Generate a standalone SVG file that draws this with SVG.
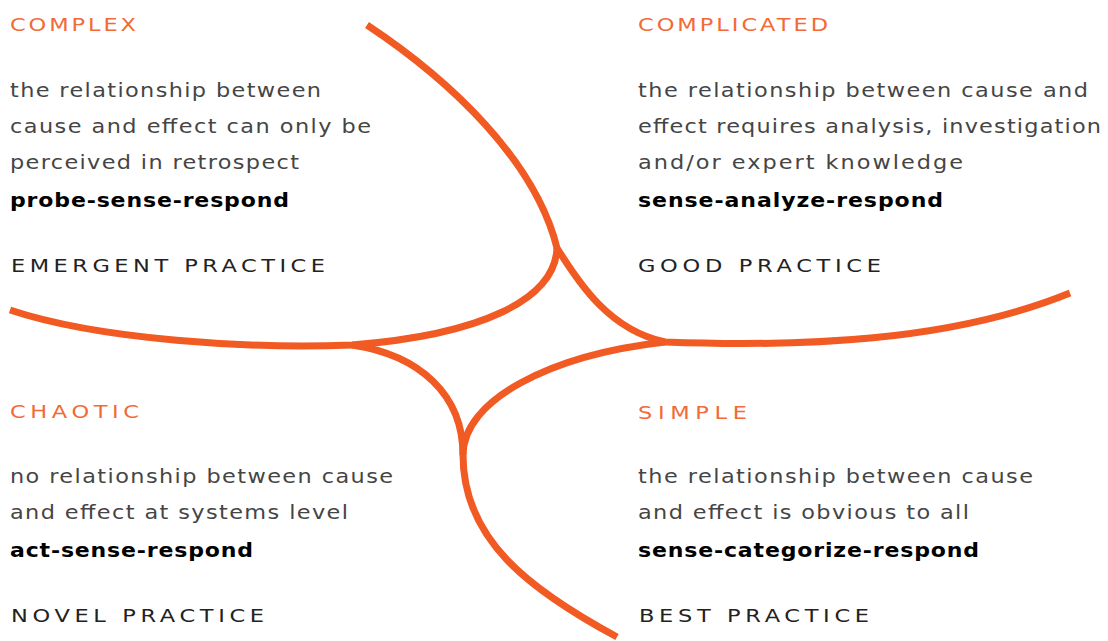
<svg xmlns="http://www.w3.org/2000/svg" width="1108" height="641" viewBox="0 0 1108 641">
  <style>
    .curve { fill: none; stroke: #F15A22; stroke-width: 7; stroke-linecap: butt; stroke-linejoin: round; }
    text { font-family: "DejaVu Sans", "Liberation Sans", sans-serif; }
    .hd { font-size: 18px; fill: #F26A36; }
    .desc { font-size: 20px; fill: #454545; }
    .act { font-size: 20px; font-weight: bold; fill: #000000; }
    .prac { font-size: 18px; fill: #222222; }
  </style>
  <rect width="1108" height="641" fill="#ffffff"/>

  <!-- domain boundaries -->
  <g id="connectors">
    <path class="curve" d="M367,25 C450,80 535,160 557,248 C580,285 610,330 665,342 C800,347 950,342 1070,293"/>
    <path class="curve" d="M557,248 C555,300 480,335 352,345 C250,349 100,340 10,310"/>
    <path class="curve" d="M352,345 C420,355 463,395 463,455 C463,540 530,590 617,637"/>
    <path class="curve" d="M463,455 C463,400 550,355 665,342"/>
  </g>

  <!-- wide lettering: glyphs stretched horizontally, baseline kept -->
  <g id="complex">
    <text class="hd" transform="matrix(1.25 0 0 1 10 31)" textLength="100.8" lengthAdjust="spacing">COMPLEX</text>
    <text class="desc" transform="matrix(1.12 0 0 1 10 97)" textLength="277.7" lengthAdjust="spacing">the relationship between</text>
    <text class="desc" transform="matrix(1.12 0 0 1 10 133)" textLength="322.3" lengthAdjust="spacing">cause and effect can only be</text>
    <text class="desc" transform="matrix(1.12 0 0 1 10 169)" textLength="258" lengthAdjust="spacing">perceived in retrospect</text>
    <text class="act" transform="matrix(1.1 0 0 1 10 207)" textLength="253.6" lengthAdjust="spacing">probe-sense-respond</text>
    <text class="prac" transform="matrix(1.25 0 0 1 11 272)" textLength="251.2" lengthAdjust="spacing">EMERGENT PRACTICE</text>
  </g>

  <g id="complicated">
    <text class="hd" transform="matrix(1.25 0 0 1 638 31)" textLength="152" lengthAdjust="spacing">COMPLICATED</text>
    <text class="desc" transform="matrix(1.12 0 0 1 638 97)" textLength="401.8" lengthAdjust="spacing">the relationship between cause and</text>
    <text class="desc" transform="matrix(1.12 0 0 1 638 133)" textLength="413.4" lengthAdjust="spacing">effect requires analysis, investigation</text>
    <text class="desc" transform="matrix(1.12 0 0 1 638 169)" textLength="290.2" lengthAdjust="spacing">and/or expert knowledge</text>
    <text class="act" transform="matrix(1.1 0 0 1 638 207)" textLength="277.3" lengthAdjust="spacing">sense-analyze-respond</text>
    <text class="prac" transform="matrix(1.25 0 0 1 638 272)" textLength="194.4" lengthAdjust="spacing">GOOD PRACTICE</text>
  </g>

  <g id="chaotic">
    <text class="hd" transform="matrix(1.25 0 0 1 10 418)" textLength="103.2" lengthAdjust="spacing">CHAOTIC</text>
    <text class="desc" transform="matrix(1.12 0 0 1 10 483)" textLength="342" lengthAdjust="spacing">no relationship between cause</text>
    <text class="desc" transform="matrix(1.12 0 0 1 10 519)" textLength="301.8" lengthAdjust="spacing">and effect at systems level</text>
    <text class="act" transform="matrix(1.1 0 0 1 10 557)" textLength="220.9" lengthAdjust="spacing">act-sense-respond</text>
    <text class="prac" transform="matrix(1.25 0 0 1 11 622)" textLength="202.4" lengthAdjust="spacing">NOVEL PRACTICE</text>
  </g>

  <g id="simple">
    <text class="hd" transform="matrix(1.25 0 0 1 638 419)" textLength="87.2" lengthAdjust="spacing">SIMPLE</text>
    <text class="desc" transform="matrix(1.12 0 0 1 638 483)" textLength="352.7" lengthAdjust="spacing">the relationship between cause</text>
    <text class="desc" transform="matrix(1.12 0 0 1 638 519)" textLength="295.5" lengthAdjust="spacing">and effect is obvious to all</text>
    <text class="act" transform="matrix(1.1 0 0 1 638 557)" textLength="310" lengthAdjust="spacing">sense-categorize-respond</text>
    <text class="prac" transform="matrix(1.25 0 0 1 639 622)" textLength="184" lengthAdjust="spacing">BEST PRACTICE</text>
  </g>
</svg>
